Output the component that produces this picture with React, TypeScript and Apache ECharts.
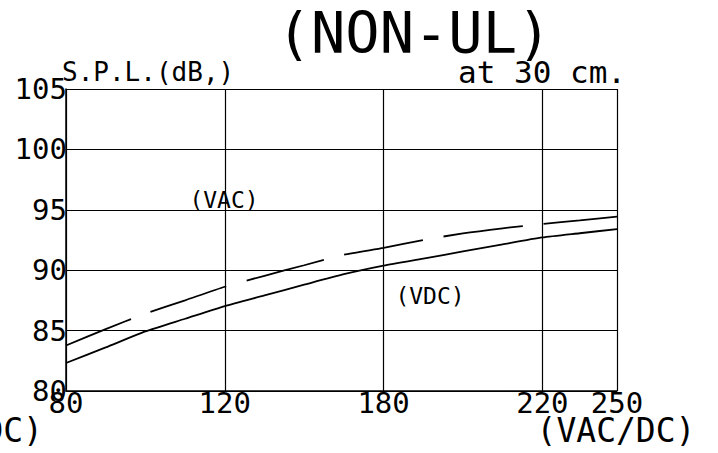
import React, { useEffect, useRef } from "react";
import * as echarts from "echarts";

// X axis: voltage tick labels and their (equally drawn) grid positions
const voltageTicks = [80, 120, 180, 220, 250];
const tickPositions = [0, 1, 2, 3, 3.47];

// Y axis range (dB)
const yMin = 80;
const yMax = 105;
const yStep = 5;

// Curve samples (voltage -> S.P.L. dB)
const voltages = [80, 90, 100, 110, 120, 135, 150, 165, 180, 190, 200, 210, 220, 235, 250];
const splVdc = [82.32, 83.61, 84.93, 85.98, 87.03, 87.91, 88.8, 89.67, 90.38, 90.96, 91.55, 92.14, 92.71, 93.06, 93.4];
const splVac = [83.77, 85.12, 86.41, 87.51, 88.63, 89.54, 90.41, 91.28, 91.85, 92.5, 93.05, 93.47, 93.83, 94.12, 94.43];

const MONO = "'DejaVu Sans Mono', 'Liberation Mono', monospace";

function toPos(v: number): number {
  for (let i = 0; i < voltageTicks.length - 1; i++) {
    const a = voltageTicks[i];
    const b = voltageTicks[i + 1];
    if (v <= b || i === voltageTicks.length - 2) {
      const t = (v - a) / (b - a);
      return tickPositions[i] + t * (tickPositions[i + 1] - tickPositions[i]);
    }
  }
  return 0;
}

function labelFor(val: number): string {
  const i = tickPositions.findIndex((p) => Math.abs(p - val) < 1e-6);
  return i >= 0 ? String(voltageTicks[i]) : "";
}

export default function App() {
  const ref = useRef<HTMLDivElement>(null);

  useEffect(() => {
    if (!ref.current) return;
    const chart = echarts.init(ref.current, undefined, { renderer: "svg" });
    const vdcData = voltages.map((v, i) => [toPos(v), splVdc[i]]);
    const vacData = voltages.map((v, i) => [toPos(v), splVac[i]]);

    const text = (
      t: string,
      x: number,
      y: number,
      size: number,
      align: string = "left"
    ) => ({
      type: "text",
      x,
      y,
      silent: true,
      style: {
        text: t,
        fontFamily: MONO,
        fontSize: size,
        fill: "#000",
        align,
        verticalAlign: "middle",
      },
    });

    chart.setOption({
      animation: false,
      backgroundColor: "#fff",
      grid: { left: 66, top: 89, right: 101, bottom: 62, containLabel: false },
      xAxis: {
        type: "value",
        min: 0,
        max: tickPositions[tickPositions.length - 1],
        interval: 1,
        axisLine: { show: true, lineStyle: { color: "#000", width: 1.5 } },
        axisTick: { show: false, customValues: tickPositions },
        axisLabel: {
          customValues: tickPositions,
          showMinLabel: true,
          showMaxLabel: true,
          formatter: (v: number) => labelFor(v),
          color: "#000",
          fontFamily: MONO,
          fontSize: 29,
          margin: -3,
        },
        splitLine: { show: true, lineStyle: { color: "#000", width: 1.2 } },
      },
      yAxis: {
        type: "value",
        min: yMin,
        max: yMax,
        interval: yStep,
        axisLine: { show: true, lineStyle: { color: "#000", width: 1.5 } },
        axisTick: { show: false },
        axisLabel: {
          color: "#000",
          fontFamily: MONO,
          fontSize: 29,
          margin: -1,
          showMinLabel: true,
          showMaxLabel: true,
        },
        splitLine: { show: true, lineStyle: { color: "#000", width: 1.2 } },
      },
      series: [
        {
          name: "VDC",
          type: "line",
          data: vdcData,
          showSymbol: false,
          smooth: 0.2,
          lineStyle: { color: "#000", width: 1.8 },
          silent: true,
        },
        {
          name: "VAC",
          type: "line",
          data: vacData,
          showSymbol: false,
          smooth: 0.2,
          lineStyle: { color: "#000", width: 1.8, type: [80, 21], dashOffset: 10 },
          silent: true,
        },
      ],
      graphic: [
        text("(NON-UL)", 414, 33, 57, "center"),
        text("S.P.L.(dB,)", 62, 72, 26),
        text("at 30 cm.", 542, 72, 31, "center"),
        text("(VAC)", 224, 200, 23, "center"),
        text("(VDC)", 430, 296, 23, "center"),
        text("(VAC/DC)", 616, 430, 33, "center"),
        text("(VAC/DC)", 43, 430, 33, "right"),
      ],
    });

    return () => chart.dispose();
  }, []);

  return (
    <div
      ref={ref}
      style={{ position: "fixed", left: 0, top: 0, width: 718, height: 453 }}
    />
  );
}
